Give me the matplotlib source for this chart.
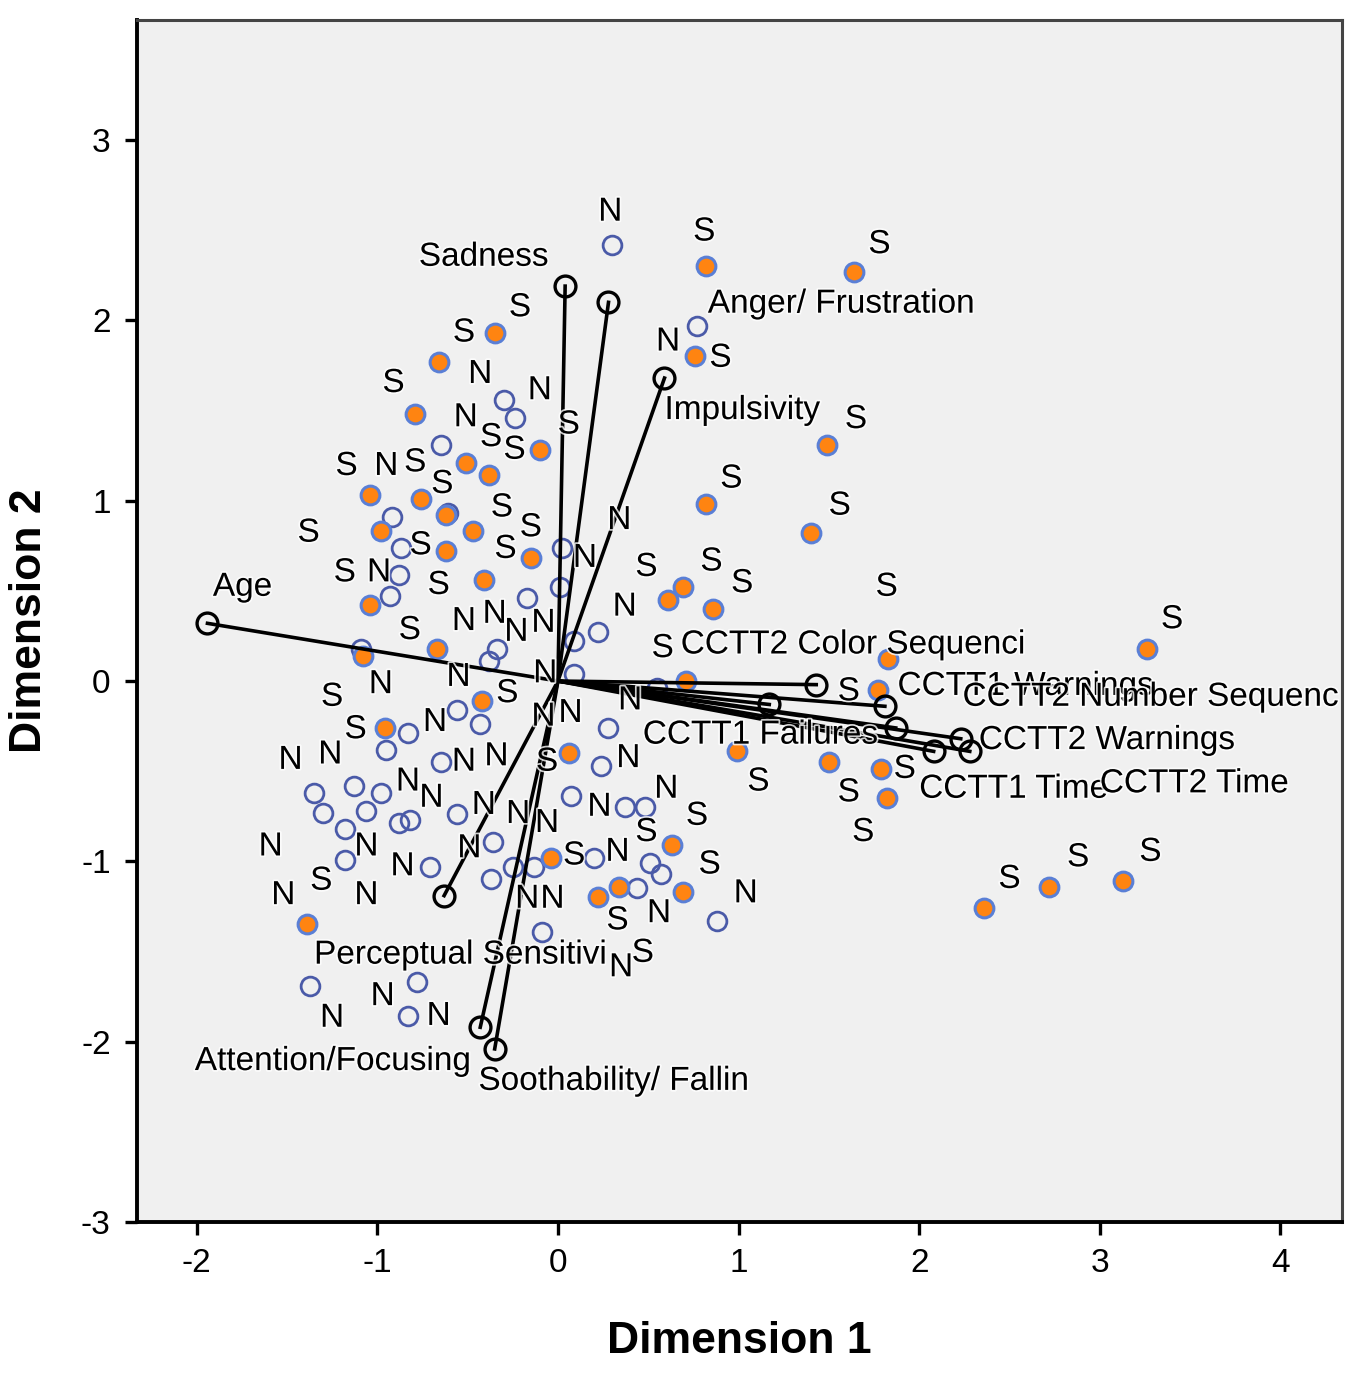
import matplotlib
matplotlib.use("Agg")
import matplotlib.pyplot as plt
import matplotlib.patheffects as pe

plt.rcParams['font.family'] = ['Liberation Sans', 'DejaVu Sans']

# Object points, group S (orange-filled)
s_x = [0.82, 1.64, -0.35, -0.66, 0.76, -0.79, 1.49, -0.10, -0.51, -0.38, -1.04, -0.76,
       0.82, -0.62, -0.47, 1.40, -0.98, -0.62, -0.15, -0.41, 0.69, 0.61, 0.86, -1.04,
       -0.67, 1.83, 3.26, -1.08, -0.42, 1.77, -0.96, 0.06, 0.99, 1.50, 1.79, 1.82,
       -0.04, 0.63, 0.22, 0.34, 0.69, -1.39, 2.36, 2.72, 3.13, 0.71]
s_y = [2.30, 2.27, 1.93, 1.77, 1.80, 1.48, 1.31, 1.28, 1.21, 1.14, 1.03, 1.01,
       0.98, 0.92, 0.83, 0.82, 0.83, 0.72, 0.68, 0.56, 0.52, 0.45, 0.40, 0.42,
       0.18, 0.12, 0.18, 0.14, -0.11, -0.05, -0.26, -0.40, -0.39, -0.45, -0.49, -0.65,
       -0.98, -0.91, -1.20, -1.14, -1.17, -1.35, -1.26, -1.14, -1.11, 0.00]

# Object points, group N (open blue)
n_x = [0.30, 0.77, -0.30, -0.24, -0.65, -0.92, -0.61, -0.87, -0.88, -0.93, -0.17, 0.02,
       0.01, 0.22, 0.09, 0.09, -0.34, -0.38, -1.09, -0.56, -0.43, -0.83, -0.95, 0.28,
       0.55, -0.65, 0.24, 0.07, 0.37, 0.48, -1.35, -1.30, -1.13, -1.18, -0.98, -1.06,
       -0.88, -0.82, -0.56, -1.18, -0.71, -0.36, -0.37, -0.25, -0.13, 0.20, 0.51, 0.57,
       0.44, 0.88, -0.09, -1.37, -0.78, -0.83]
n_y = [2.42, 1.97, 1.56, 1.46, 1.31, 0.91, 0.93, 0.74, 0.59, 0.47, 0.46, 0.74,
       0.52, 0.27, 0.22, 0.04, 0.18, 0.11, 0.18, -0.16, -0.24, -0.29, -0.38, -0.26,
       -0.04, -0.45, -0.47, -0.64, -0.70, -0.70, -0.62, -0.73, -0.58, -0.82, -0.62, -0.72,
       -0.79, -0.77, -0.74, -0.99, -1.03, -0.89, -1.10, -1.03, -1.03, -0.98, -1.01, -1.07,
       -1.15, -1.33, -1.39, -1.69, -1.67, -1.86]

# Case labels
lab_n_x = [0.29, 0.61, -0.43, -0.10, -0.51, -0.95, 0.34, 0.15, -0.99, 0.37, -0.52, -0.35,
           -0.23, -0.08, -0.07, -0.98, -0.55, 0.40, -0.68, -0.08, 0.07, -1.48, -1.26, -0.52,
           -0.34, 0.39, -0.83, -0.70, -0.41, -0.22, -0.06, 0.23, 0.60, -1.59, -1.06, -0.86,
           -0.49, 0.33, -1.52, -1.06, -0.17, -0.03, 0.56, 1.04, 0.35, -0.97, -1.25, -0.66]
lab_n_y = [2.60, 1.88, 1.70, 1.61, 1.46, 1.19, 0.89, 0.68, 0.60, 0.41, 0.33, 0.37,
           0.27, 0.32, 0.04, -0.02, 0.02, -0.11, -0.23, -0.20, -0.18, -0.44, -0.41, -0.45,
           -0.42, -0.43, -0.56, -0.65, -0.69, -0.74, -0.79, -0.70, -0.60, -0.92, -0.92, -1.03,
           -0.93, -0.95, -1.19, -1.19, -1.21, -1.21, -1.29, -1.18, -1.59, -1.75, -1.87, -1.86]
lab_s_x = [0.81, 1.78, -0.21, -0.52, 0.90, -0.91, 0.06, -0.37, -0.24, 1.65, -1.17, -0.79,
           -0.64, 0.96, -0.31, 1.56, -0.15, -1.38, -0.76, -0.29, -1.18, 0.49, 0.85, 1.02,
           -0.66, 1.82, -0.82, 3.40, 0.58, -1.25, -0.28, 1.61, -1.12, -0.06, 1.92, 1.11,
           1.61, 0.77, 0.49, 1.69, 0.09, 0.84, -1.31, 0.33, 2.50, 2.88, 3.28, 0.47]
lab_s_y = [2.49, 2.42, 2.07, 1.93, 1.79, 1.65, 1.42, 1.35, 1.28, 1.45, 1.19, 1.21,
           1.09, 1.12, 0.96, 0.97, 0.85, 0.82, 0.75, 0.73, 0.60, 0.63, 0.66, 0.54,
           0.53, 0.52, 0.28, 0.34, 0.18, -0.09, -0.07, -0.06, -0.27, -0.45, -0.49, -0.56,
           -0.62, -0.75, -0.84, -0.84, -0.97, -1.02, -1.11, -1.33, -1.10, -0.98, -0.95, -1.51]

# Variable vectors (component loadings)
var_names = ["Sadness", "Anger/ Frustration", "Impulsivity", "Age", "Perceptual Sensitivi",
             "Attention/Focusing", "Soothability/ Fallin", "CCTT2 Color Sequenci",
             "CCTT1 Warnings", "CCTT2 Number Sequenc", "CCTT2 Warnings", "CCTT1 Time",
             "CCTT2 Time", "CCTT1 Failures"]
var_x = [0.04, 0.28, 0.59, -1.94, -0.63, -0.43, -0.35, 1.43, 1.81, 1.87, 2.23, 2.08, 2.28, 1.17]
var_y = [2.19, 2.10, 1.68, 0.32, -1.19, -1.92, -2.04, -0.02, -0.14, -0.26, -0.32, -0.39, -0.39, -0.13]
# label anchor (left edge, vertical centre)
var_lx = [-0.77, 0.83, 0.59, -1.91, -1.35, -2.01, -0.44, 0.68, 1.88, 2.24, 2.33, 2.00, 3.00, 0.47]
var_ly = [2.35, 2.09, 1.50, 0.52, -1.52, -2.11, -2.22, 0.20, -0.03, -0.09, -0.33, -0.60, -0.57, -0.30]

xticks = [-2, -1, 0, 1, 2, 3, 4]
yticks = [-3, -2, -1, 0, 1, 2, 3]

fig = plt.figure(figsize=(13.5, 13.76), dpi=100)
ax = fig.add_axes([0.1015, 0.1119, 0.8925, 0.8736])
ax.set_facecolor('#f0f0f0')

ax.plot(n_x, n_y, 'o', ms=13.5, mfc='none', mec='#4a5aa8', mew=2.0, zorder=2)
ax.plot(s_x, s_y, 'o', ms=13.5, mfc='#ff8411', mec='#5a7fd6', mew=2.2, zorder=2)

for vx, vy in zip(var_x, var_y):
    ax.plot([0, vx], [0, vy], '-', color='black', lw=2.6, zorder=3)
ax.plot(var_x, var_y, 'o', ms=15, mfc='none', mec='black', mew=2.4, zorder=4)

halo = [pe.withStroke(linewidth=2.5, foreground='white', alpha=0.8)]
fs = 24
for x, y in zip(lab_n_x, lab_n_y):
    ax.text(x, y, 'N', fontsize=fs, ha='center', va='center', zorder=5, path_effects=halo)
for x, y in zip(lab_s_x, lab_s_y):
    ax.text(x, y, 'S', fontsize=fs, ha='center', va='center', zorder=5, path_effects=halo)
for name, x, y in zip(var_names, var_lx, var_ly):
    ax.text(x, y, name, fontsize=fs, ha='left', va='center', zorder=5, path_effects=halo)

ax.set_xlim(-2.33, 4.34)
ax.set_ylim(-3.0, 3.666)
ax.set_xticks(xticks)
ax.set_yticks(yticks)
ax.set_xticklabels([str(t) for t in xticks])
ax.set_yticklabels([str(t) for t in yticks])
ax.tick_params(direction='out', length=9, width=2.4, labelsize=24, pad=10, color='black')

for side in ['left', 'bottom']:
    ax.spines[side].set_linewidth(2.8)
    ax.spines[side].set_color('black')
for side in ['top', 'right']:
    ax.spines[side].set_linewidth(2.2)
    ax.spines[side].set_color('#444444')

ax.set_xlabel('Dimension 1', fontsize=32, fontweight='bold', labelpad=30)
ax.set_ylabel('Dimension 2', fontsize=32, fontweight='bold', labelpad=22)

fig.savefig('out.png', dpi=100, facecolor='white')
